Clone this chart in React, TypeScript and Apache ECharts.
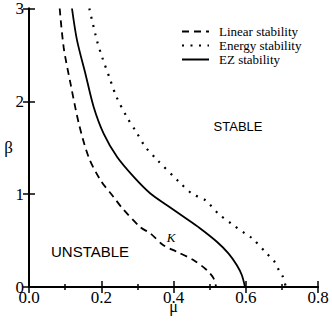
import React, { useEffect, useRef } from "react";
import * as echarts from "echarts";

const linearMu = [0.085, 0.096, 0.115, 0.138, 0.165, 0.198, 0.234, 0.258, 0.308, 0.336, 0.372, 0.409, 0.455, 0.492, 0.511, 0.518];
const linearBeta = [3.0, 2.58, 2.19, 1.76, 1.4, 1.15, 0.97, 0.85, 0.645, 0.577, 0.45, 0.38, 0.29, 0.183, 0.093, 0.0];

const ezMu = [0.119, 0.133, 0.156, 0.179, 0.207, 0.244, 0.29, 0.336, 0.382, 0.428, 0.474, 0.52, 0.552, 0.575, 0.589, 0.598];
const ezBeta = [3.0, 2.656, 2.3, 1.94, 1.65, 1.4, 1.186, 1.007, 0.88, 0.756, 0.63, 0.487, 0.362, 0.237, 0.129, 0.0];

const energyMu = [0.167, 0.188, 0.203, 0.225, 0.242, 0.271, 0.297, 0.322, 0.352, 0.416, 0.451, 0.488, 0.524, 0.561, 0.598, 0.617, 0.656, 0.68, 0.692, 0.703, 0.711];
const energyBeta = [3.0, 2.656, 2.47, 2.23, 2.05, 1.83, 1.67, 1.51, 1.38, 1.13, 1.007, 0.935, 0.79, 0.68, 0.577, 0.527, 0.37, 0.27, 0.18, 0.108, 0.0];

const seriesNames = ["Linear stability", "Energy stability", "EZ stability"];
const xTicks = [0, 0.2, 0.4, 0.6, 0.8];
const yTicks = [0, 1, 2, 3];

const serif = "Liberation Serif";
const sans = "Liberation Sans";

function pairs(xs: number[], ys: number[]) {
  return xs.map((x, i) => [x, ys[i]]);
}

export default function App() {
  const ref = useRef<HTMLDivElement>(null);
  useEffect(() => {
    if (!ref.current) return;
    const chart = echarts.init(ref.current, null, { renderer: "svg" });
    const axisLine = { show: true, lineStyle: { color: "#000", width: 2 } };
    const tick = { show: true, inside: true, length: 6, lineStyle: { color: "#000", width: 1.5 } };
    const minor = { show: true, splitNumber: 2, length: 3, lineStyle: { color: "#000", width: 1.5 } };
    const xBase = { type: "value", min: xTicks[0], max: xTicks[xTicks.length - 1], interval: 0.2, splitLine: { show: false } };
    const yBase = { type: "value", min: yTicks[0], max: yTicks[yTicks.length - 1], interval: 1, splitLine: { show: false } };
    chart.setOption({
      animation: false,
      grid: { left: 29, right: 14, top: 8, bottom: 39, containLabel: false },
      legend: {
        orient: "vertical",
        left: 181,
        top: 25,
        padding: 0,
        itemWidth: 27,
        itemHeight: 12,
        itemGap: 1,
        data: seriesNames,
        itemStyle: { opacity: 0 },
        textStyle: { fontFamily: serif, fontSize: 13, color: "#000", padding: [0, 0, 0, 5] },
      },
      xAxis: [
        {
          ...xBase,
          position: "bottom",
          axisLine,
          axisTick: tick,
          minorTick: minor,
          axisLabel: {
            show: true,
            margin: 2,
            fontFamily: serif,
            fontSize: 17,
            color: "#000",
            formatter: (v: number) => v.toFixed(1),
          },
          name: "μ",
          nameLocation: "middle",
          nameGap: 11,
          nameMoveOverlap: false,
          nameTextStyle: { fontFamily: serif, fontSize: 16, color: "#000" },
        },
        {
          ...xBase,
          position: "top",
          axisLine,
          axisTick: tick,
          minorTick: minor,
          axisLabel: { show: false },
        },
      ],
      yAxis: [
        {
          ...yBase,
          position: "left",
          axisLine,
          axisTick: tick,
          axisLabel: { show: true, margin: 5, fontFamily: serif, fontSize: 17, color: "#000" },
          name: "β",
          nameLocation: "middle",
          nameRotate: 0,
          nameGap: 16,
          nameMoveOverlap: false,
          nameTextStyle: { fontFamily: serif, fontSize: 17, color: "#000" },
        },
        {
          ...yBase,
          position: "right",
          axisLine,
          axisTick: tick,
          axisLabel: { show: false },
        },
      ],
      series: [
        {
          name: seriesNames[0],
          type: "line",
          data: pairs(linearMu, linearBeta),
          showSymbol: false,
          symbol: "none",
          smooth: 0.3,
          lineStyle: { color: "#000", width: 1.8, type: [7, 5] },
          itemStyle: { color: "#000" },
        },
        {
          name: seriesNames[1],
          type: "line",
          data: pairs(energyMu, energyBeta),
          showSymbol: false,
          symbol: "none",
          smooth: 0.3,
          lineStyle: { color: "#000", width: 2.2, type: [2, 6.5] },
          itemStyle: { color: "#000" },
        },
        {
          name: seriesNames[2],
          type: "line",
          data: pairs(ezMu, ezBeta),
          showSymbol: false,
          symbol: "none",
          smooth: 0.3,
          lineStyle: { color: "#000", width: 1.8, type: "solid" },
          itemStyle: { color: "#000" },
        },
      ],
      graphic: [
        {
          type: "text",
          x: 238,
          y: 126,
          style: { text: "STABLE", fontFamily: sans, fontSize: 13, fill: "#000", align: "center", verticalAlign: "middle" },
        },
        {
          type: "text",
          x: 90,
          y: 251,
          style: { text: "UNSTABLE", fontFamily: sans, fontSize: 15, fill: "#000", align: "center", verticalAlign: "middle" },
        },
        {
          type: "text",
          x: 171,
          y: 237,
          style: { text: "K", fontFamily: serif, fontStyle: "italic", fontSize: 13, fill: "#000", align: "center", verticalAlign: "middle" },
        },
      ],
    });
    return () => chart.dispose();
  }, []);
  return <div ref={ref} style={{ position: "absolute", left: 0, top: 0, width: 332, height: 326 }} />;
}
